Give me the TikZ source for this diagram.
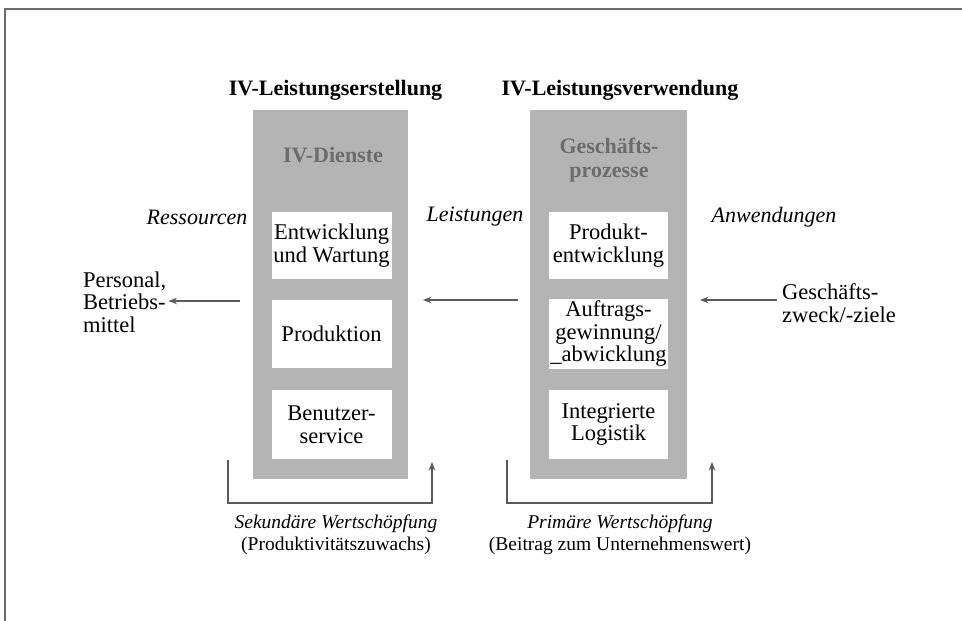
\documentclass[tikz,border=0pt]{standalone}
\usepackage{fontspec}
\setmainfont{Liberation Serif}
\usetikzlibrary{arrows.meta}
\definecolor{colgrey}{HTML}{B4B4B4}
\definecolor{linegrey}{HTML}{5A5A5A}
\definecolor{dtext}{HTML}{6C6C6C}
\definecolor{framegrey}{HTML}{6A6A6A}
\begin{document}
\begin{tikzpicture}[x=1pt,y=-1pt,
  body/.style={font=\fontsize{22.5}{22.5}\selectfont, inner sep=0pt},
  lab/.style={font=\fontsize{22}{22.5}\selectfont\itshape, inner sep=0pt},
  ttl/.style={font=\fontsize{22}{24}\selectfont\bfseries, inner sep=0pt},
  coltext/.style={font=\fontsize{22}{24}\selectfont\bfseries, text=dtext, align=center, inner sep=0pt},
  col/.style={fill=colgrey, draw=none, inner sep=0pt, minimum height=369pt},
  wbox/.style={fill=white, draw=none, inner sep=0pt, align=center, font=\fontsize{22.5}{22.5}\selectfont},
  bot/.style={font=\fontsize{19.5}{22}\selectfont, align=center, inner sep=0pt},
  arr/.style={draw=linegrey, line width=1.2pt, -{Stealth[length=8.5pt,width=6.5pt]}},
]
\useasboundingbox (0,0) rectangle (962,621);
\fill[white] (0,0) rectangle (962,621);
\draw[framegrey, line width=1.3pt] (5,621) -- (5,9) -- (962,9);

% titles
\node[ttl] (t1) at (335.5,90) {IV-Leistungserstellung};
\node[ttl] (t2) at (620,90) {IV-Leistungsverwendung};

% grey columns
\node[col, minimum width=155pt] (colL) at (330.5,294.5) {};
\node[col, minimum width=157pt] (colR) at (608.5,294.5) {};

\node[coltext] (dienste) at (333,155) {IV-Dienste};
\node[coltext] (gp) at (609,160) {Geschäfts-\\prozesse};

% white boxes left
\node[wbox, minimum width=120pt, minimum height=67pt] (ew) at (331.5,245.5) {Entwicklung\\und Wartung};
\node[wbox, minimum width=120pt, minimum height=68pt] (pr) at (331.5,334) {Produktion};
\node[wbox, minimum width=120pt, minimum height=69pt] (bs) at (331.5,424.5) {Benutzer-\\service};

% white boxes right
\node[wbox, minimum width=119pt, minimum height=67pt] (pe) at (608.5,245.5) {Produkt-\\entwicklung};
\node[wbox, minimum width=119pt, minimum height=70pt] (ag) at (608.5,334) {Auftrags-\\gewinnung/\\\_abwicklung};
\node[wbox, minimum width=119pt, minimum height=69pt] (il) at (608.5,424.5) {Integrierte\\Logistik};

% side labels
\node[lab] (res) at (197,217) {Ressourcen};
\node[lab] (lei) at (475,217) {Leistungen};
\node[lab] (anw) at (774,217) {Anwendungen};

\node[body, align=left, anchor=west, inner sep=2pt] (pers) at (81,302) {Personal,\\Betriebs-\\mittel};
\node[body, align=left, anchor=west, inner sep=5pt] (gz) at (777,303) {Geschäfts-\\zweck/-ziele};

% arrows
\coordinate (a1s) at (240,301);
\coordinate (a2s) at (518,300);
\coordinate (a2e) at (423,300);
\coordinate (a3e) at (700,300);
\draw[arr] (a1s) -- (a1s -| pers.east);
\draw[arr] (a2s) -- (a2e);
\draw[arr] (gz.west |- a3e) -- (a3e);

% brackets
\coordinate (bl1) at (228,460);
\coordinate (bl2) at (432,503);
\coordinate (bl3) at (432,462);
\coordinate (br1) at (507,460);
\coordinate (br2) at (712,503);
\coordinate (br3) at (712,462);
\draw[arr] (bl1) |- (bl2) -- (bl3);
\draw[arr] (br1) |- (br2) -- (br3);

% bottom labels
\node[bot] (sek) at (336,535) {\textit{Sekundäre Wertschöpfung}\\(Produktivitätszuwachs)};
\node[bot] (pri) at (620,535) {\textit{Primäre Wertschöpfung}\\(Beitrag zum Unternehmenswert)};
\end{tikzpicture}
\end{document}
